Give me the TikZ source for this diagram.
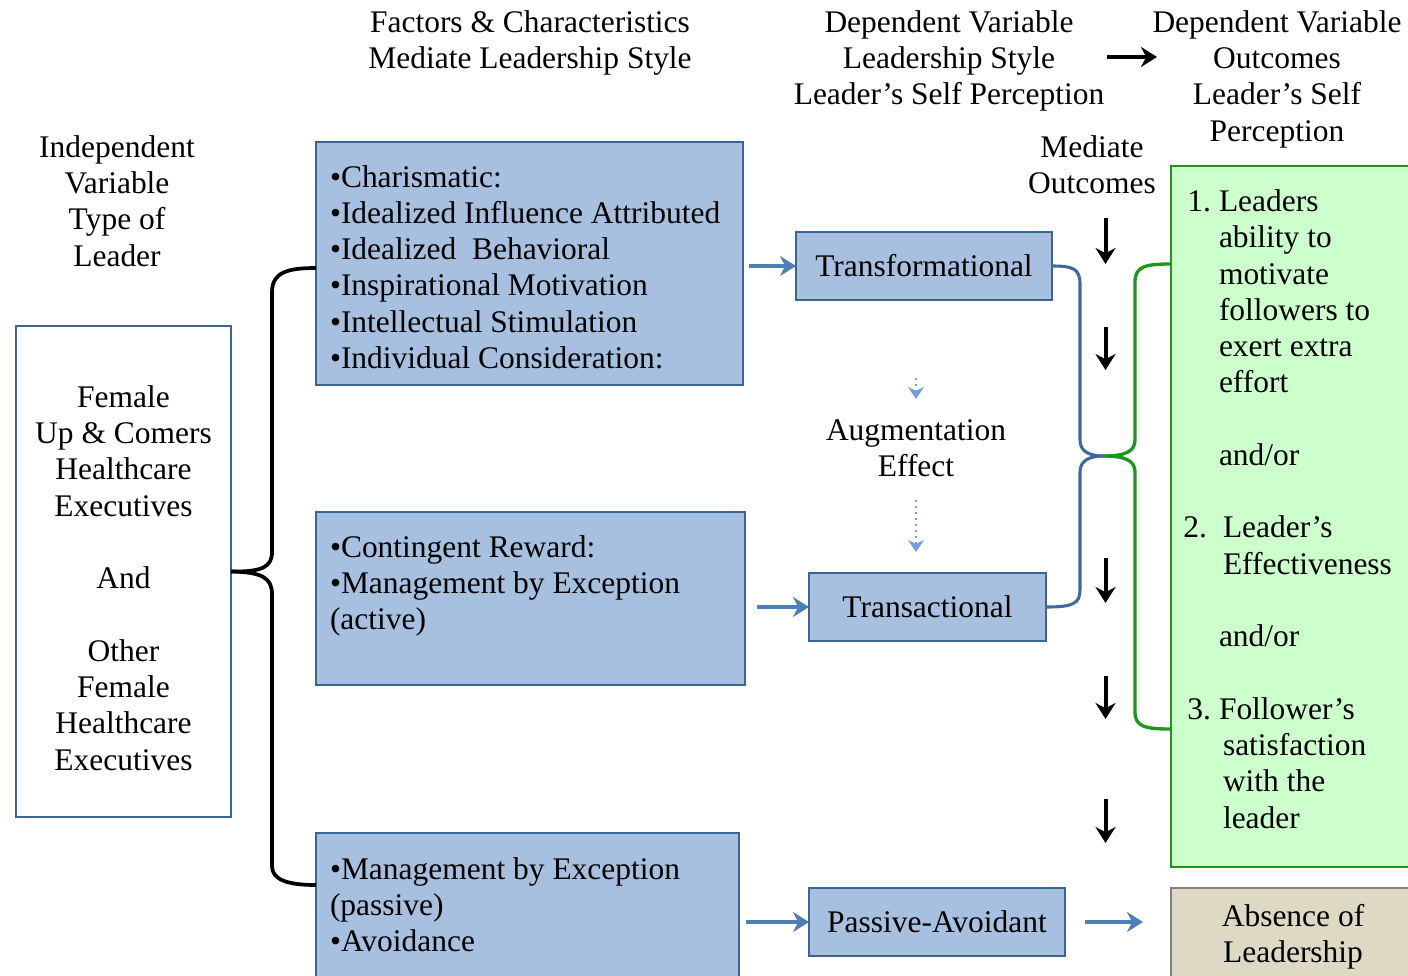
\documentclass[tikz,border=0pt]{standalone}
\usepackage{fontspec}
\setmainfont{Liberation Serif}
\usetikzlibrary{arrows.meta,calc}
\definecolor{boxfill}{HTML}{A7C0DF}
\definecolor{boxline}{HTML}{3B6596}
\definecolor{arrowblue}{HTML}{4F7DB5}
\definecolor{conblue}{HTML}{3D6A9E}
\definecolor{gfill}{HTML}{CCFFCC}
\definecolor{gline}{HTML}{1A9A1A}
\definecolor{absfill}{HTML}{DDD9C3}
\definecolor{absline}{HTML}{808080}
\definecolor{augblue}{HTML}{6F9FD8}
\begin{document}
\begin{tikzpicture}[x=0.75pt,y=-0.75pt,
  every node/.style={font=\fontsize{23.6pt}{27.2pt}\selectfont, inner sep=0pt, outer sep=0pt},
  bluebox/.style={draw=boxline, fill=boxfill, line width=2.2pt},
  whitebox/.style={draw=boxline, fill=white, line width=2.2pt},
  greenbox/.style={draw=gline, fill=gfill, line width=2.2pt},
  absbox/.style={draw=absline, fill=absfill, line width=1.5pt},
  brace/.style={draw=black, line width=2.8pt, line join=round},
  bluecon/.style={draw=conblue, line width=2.3pt},
  greencon/.style={draw=gline, line width=2.5pt},
  barrow/.style={draw=arrowblue, line width=2.8pt, -{Stealth[length=12pt,width=15pt]}},
  karrow/.style={draw=black, line width=3pt, -{Stealth[length=12pt,width=15pt]}},
  augarrow/.style={draw=augblue, line width=1.6pt, dash pattern=on 1.5pt off 3pt, -{Stealth[length=9pt,width=12pt,inset=3pt]}},
  hdr/.style={anchor=base, align=center},
  lst/.style={anchor=base west, align=left}
]
\useasboundingbox (0,0) rectangle (1408,975);
\clip (0,0) rectangle (1408,975);

% headers (base anchor = baseline of last line)
\node[hdr] (h1) at (530,68.3) {Factors \& Characteristics\\Mediate Leadership Style};
\node[hdr] (h2) at (949,104.6) {Dependent Variable\\Leadership Style\\Leader’s Self Perception};
\node[hdr] (h3) at (1277,141) {Dependent Variable\\Outcomes\\Leader’s Self\\Perception};
\node[hdr] (h4) at (117,266) {Independent\\Variable\\Type of\\Leader};
\node[hdr] (h5) at (1092,193.3) {Mediate\\Outcomes};
\coordinate (ha1) at (1107,57);
\coordinate (ha2) at (1157,57);
\draw[karrow] (ha1) -- (ha2);

% left box
\node[whitebox, minimum width=161.25pt, minimum height=368.25pt] (lb) at (123.5,571.5) {};
\node[hdr] (lbt) at (123.5,770) {Female\\Up \& Comers\\Healthcare\\Executives\\[27.2pt]And\\[27.2pt]Other\\Female\\Healthcare\\Executives};

% factor boxes
\node[bluebox, minimum width=320.25pt, minimum height=182.25pt] (box1) at (529.5,263.5) {};
\node[lst] (t1) at (330,368.5) {•Charismatic:\\•Idealized Influence Attributed\\•Idealized\ \ Behavioral\\•Inspirational Motivation\\•Intellectual Stimulation\\•Individual Consideration:};
\node[bluebox, minimum width=321.75pt, minimum height=129.75pt] (box2) at (530.5,598.5) {};
\node[lst] (t2) at (330,629.6) {•Contingent Reward:\\•Management by Exception\\(active)};
\node[bluebox, minimum width=317.25pt, minimum height=125.25pt] (box3) at (527.5,916.5) {};
\node[lst] (t3) at (330,951.6) {•Management by Exception\\(passive)\\•Avoidance};

% style boxes
\node[bluebox, minimum width=192pt, minimum height=51pt] (trf) at (924,266) {Transformational};
\node[bluebox, minimum width=177.75pt, minimum height=51pt] (trc) at (927.5,607) {Transactional};
\node[bluebox, minimum width=192pt, minimum height=51pt] (pa) at (937,922) {Passive-Avoidant};

% outcome boxes
\node[greenbox, minimum width=186.75pt, minimum height=525.75pt] (gb) at (1295.5,516.5) {};
\node[lst] (gt) at (1219,828) {\llap{1.\hspace{6pt}}Leaders\\ability to\\motivate\\followers to\\exert extra\\effort\\[27.2pt]and/or\\[27.2pt]\llap{2.\hspace{9pt}}\hspace{3pt}Leader’s\\\hspace{3pt}Effectiveness\\[27.2pt]and/or\\[27.2pt]\llap{3.\hspace{6pt}}Follower’s\\\hspace{3pt}satisfaction\\\hspace{3pt}with the\\\hspace{3pt}leader};
\node[absbox, minimum width=186.75pt, minimum height=84pt] (ab) at (1295.5,944) {};
\node[hdr] (abt) at (1293,962.3) {Absence of\\Leadership};

% augmentation effect
\node[hdr] (aug) at (916,476.3) {Augmentation\\Effect};
\coordinate (au1) at (916,378);
\coordinate (au2) at (916,399);
\coordinate (au3) at (916,500);
\coordinate (au4) at (916,552);
\draw[augarrow] (au1) -- (au2);
\draw[augarrow] (au3) -- (au4);

% brace from left box
\coordinate (bt) at (316,268);
\coordinate (bb) at (316,885);
\draw[brace] (bt) .. controls (288,268) and (272,272) .. (272,292) -- (272,552)
  .. controls (272,567) and (262,572) .. (lb.east);
\draw[brace] (lb.east) .. controls (262,572) and (272,578) .. (272,594) -- (272,866)
  .. controls (272,880) and (288,885) .. (bb);

% blue arrows
\draw[barrow] ([xshift=4.5pt]box1.east |- trf.west) -- (trf.west);
\draw[barrow] ([xshift=9pt]box2.east |- trc.west) -- (trc.west);
\draw[barrow] ([xshift=5pt]box3.east |- pa.west) -- (pa.west);
\draw[barrow] ([xshift=15pt]pa.east) -- ([xshift=-21pt]ab.west |- pa.east);

% blue connectors and green bracket
\coordinate (mt) at (1104,456);
\coordinate (gtop) at (1171,264);
\coordinate (gbot) at (1171,729);
\draw[bluecon] (trf.east) .. controls (1072,266) and (1080,268) .. (1080,284) -- (1080,440)
  .. controls (1080,452) and (1090,456) .. (mt);
\draw[bluecon] (trc.east) .. controls (1072,607) and (1080,604) .. (1080,590) -- (1080,472)
  .. controls (1080,460) and (1090,456) .. (mt);
\draw[greencon] (gtop) .. controls (1146,264) and (1135,266) .. (1135,282) -- (1135,440)
  .. controls (1135,452) and (1124,456) .. (mt);
\draw[greencon] (gbot) .. controls (1146,729) and (1135,727) .. (1135,712) -- (1135,472)
  .. controls (1135,460) and (1124,456) .. (mt);

% black down arrows
\foreach \ya/\yb [count=\i] in {218/264, 327/370, 558/603, 676/719, 799/843}{
  \coordinate (da\i) at (1105.5,\ya);
  \coordinate (db\i) at (1105.5,\yb);
  \draw[karrow] (da\i) -- (db\i);
}
\end{tikzpicture}
\end{document}
